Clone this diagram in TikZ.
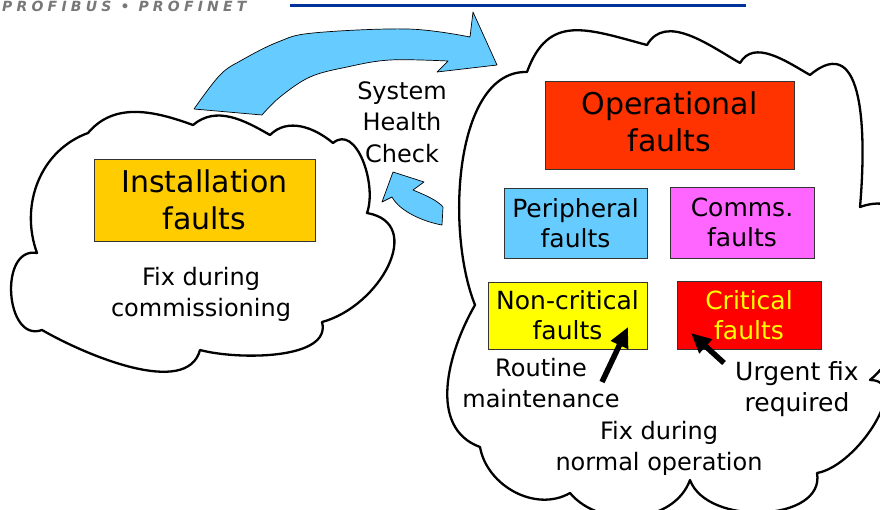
\documentclass[tikz,border=0pt]{standalone}
\usepackage{fontspec}
\setmainfont{DejaVu Sans}
\usetikzlibrary{arrows.meta}
\definecolor{instc}{RGB}{255,204,0}
\definecolor{operc}{RGB}{255,51,0}
\definecolor{peric}{RGB}{102,204,255}
\definecolor{commc}{RGB}{255,102,255}
\definecolor{noncc}{RGB}{255,255,0}
\definecolor{critc}{RGB}{255,0,0}
\definecolor{critt}{RGB}{255,255,0}
\definecolor{arrowblue}{RGB}{102,204,255}
\definecolor{linec}{RGB}{0,51,153}
\definecolor{hdrgray}{RGB}{120,120,120}
\begin{document}
\begin{tikzpicture}[x=1pt,y=-1pt,
  cloudline/.style={draw=black, line width=2.3pt, fill=white, line join=round},
  faultbox/.style={draw=black!80, line width=0.8pt, inner sep=0pt, align=center},
  bigtext/.style={font=\fontsize{30}{37}\selectfont},
  boxtext/.style={font=\fontsize{25}{30}\selectfont},
  labeltext/.style={font=\fontsize{24}{31}\selectfont, align=center, inner sep=0pt},
  blueshape/.style={fill=arrowblue, draw=black, line width=0.7pt, line join=round},
  pointer/.style={line width=5.5pt, -{Triangle[length=20pt,width=18pt]}},
]
\useasboundingbox (0,0) rectangle (880,509);
\clip (0,0) rectangle (880,509);

% header
\node[anchor=base west, font=\fontsize{14}{14}\selectfont\bfseries\itshape\addfontfeatures{LetterSpace=30}, text=hdrgray, inner sep=0pt] (hdr) at (2,11.5) {PROFIBUS • PROFINET};
\draw[line width=3pt, linec] (290,5) -- (746,5);

% left cloud
\draw[cloudline] (37,253) to[out=110,in=-160] (88,133)
  to[out=50,in=160] (193,125)
  to[out=40,in=150] (270,135)
  to[out=45,in=140] (333,143)
  to[out=40,in=70] (367,213)
  to[out=-10,in=15,looseness=1.3] (322,322)
  to[out=-75,in=-15,looseness=0.8] (200,350)
  to[out=-105,in=-30,looseness=0.8] (42,330)
  to[out=-160,in=170,looseness=1.3] cycle;

% right cloud
\draw[cloudline] (475,305) .. controls (445,230) and (455,70) .. (527,72)
  to[out=70,in=165,looseness=1.3] (647,45)
  to[out=60,in=150] (740,63)
  to[out=60,in=150] (810,75)
  to[out=40,in=85,looseness=1.3] (860,207)
  to[out=20,in=40,looseness=1.2] (870,380)
  to[out=0,in=10] (817,473)
  to[out=-80,in=-70] (690,480)
  to[out=-110,in=-50] (570,493)
  to[out=-150,in=-80] (480,447)
  to[out=160,in=-120] cycle;

% blue arrows
\draw[blueshape] plot[smooth,tension=0.6] coordinates {(194,109) (220,75) (242,60) (278,42) (313,33) (408,29) (470,37)}
  -- (473,12) -- (497,65) -- (437,72)
  -- plot[smooth,tension=0.6] coordinates {(448,61) (390,60) (347,67) (310,77) (280,97) (262,115)} -- cycle;
\draw[blueshape] (382,202) -- (393,172) -- (424,182) -- (413,190)
  .. controls (425,195) and (437,200) .. (443,207) -- (442,225)
  .. controls (425,222) and (400,212) .. (392,197) -- cycle;

% boxes
\node[faultbox, fill=instc, minimum width=221pt, minimum height=82pt, bigtext] (inst) at (204.5,200) {Installation\\faults};
\node[faultbox, fill=operc, minimum width=249pt, minimum height=88pt, bigtext] (oper) at (669.5,125) {};
\node[bigtext, align=center, inner sep=0pt] (opertxt) at (669.5,122) {Operational\\faults};
\node[faultbox, fill=peric, minimum width=143pt, minimum height=70pt, boxtext] (peri) at (575.5,223) {Peripheral\\faults};
\node[faultbox, fill=commc, minimum width=144pt, minimum height=71pt, boxtext] (comm) at (742,222.5) {Comms.\\faults};
\node[faultbox, fill=noncc, minimum width=159pt, minimum height=67pt, boxtext] (nonc) at (567.5,315.5) {Non-critical\\faults};
\node[faultbox, fill=critc, text=critt, minimum width=144pt, minimum height=68pt, boxtext] (crit) at (749,315) {Critical\\faults};

% labels
\node[labeltext, font=\fontsize{24}{31.5}\selectfont] (shc) at (402,122) {System\\Health\\Check};
\node[labeltext] (fixcomm) at (201,294) {Fix during\\commissioning};
\node[labeltext] (routine) at (541,383) {Routine\\maintenance};
\node[labeltext, font=\fontsize{25}{31}\selectfont] (urgent) at (797,389) {Urgent fix\\required};
\node[labeltext] (fixnorm) at (659,448) {Fix during\\normal operation};

% black pointers
\coordinate (rtail) at (602,382);
\coordinate (rtip) at (628,327);
\coordinate (utail) at (724,363);
\coordinate (utip) at (691,333);
\draw[pointer] (rtail) -- (rtip);
\draw[pointer] (utail) -- (utip);
\end{tikzpicture}
\end{document}
